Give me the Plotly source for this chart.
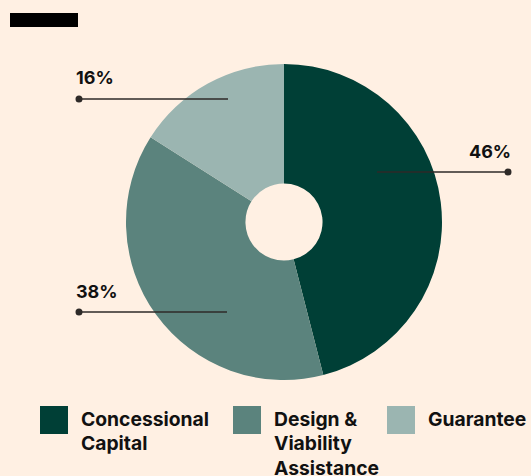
import plotly.graph_objects as go

# Funding mix shares (percent)
categories = ["Concessional Capital", "Design & Viability Assistance", "Guarantee"]
legend_lines = [["Concessional", "Capital"], ["Design &", "Viability", "Assistance"], ["Guarantee"]]
shares = [46, 38, 16]
colors = ["#003F36", "#5B837D", "#9BB5B1"]

W, H = 531, 476
BG = "#FFF0E3"
INK = "#111111"
FONT = "Inter"


def px(x):
    return x / W


def py(y):
    return 1 - y / H


fig = go.Figure()

# Donut centred at (284, 222) px with a 158 px radius
cx, cy, r = 284, 222, 158
fig.add_trace(go.Pie(
    labels=categories,
    values=shares,
    marker=dict(colors=colors, line=dict(width=0)),
    hole=0.244,
    sort=False,
    direction="clockwise",
    rotation=0,
    textinfo="none",
    hoverinfo="label+percent",
    domain=dict(x=[px(cx - r), px(cx + r)], y=[py(cy + r), py(cy - r)]),
))

shapes = []
annotations = []

# Small black header bar
shapes.append(dict(type="rect", xref="paper", yref="paper",
                   x0=px(10), x1=px(78), y0=py(27), y1=py(13),
                   fillcolor="#000000", line=dict(width=0)))

# Percentage callouts: (label x, anchor, label y, line y, line x0, line x1, dot x)
callouts = [
    (513, "right", 151.5, 172, 377, 508, 508),
    (74, "left", 291, 312, 79, 227, 79),
    (74, "left", 78, 99, 79, 228, 79),
]
for v, (lx, anc, ly, yy, x0, x1, dx) in zip(shares, callouts):
    shapes.append(dict(type="line", xref="paper", yref="paper",
                       x0=px(x0), x1=px(x1), y0=py(yy), y1=py(yy),
                       line=dict(color="#2E2A28", width=1.5)))
    shapes.append(dict(type="circle", xref="paper", yref="paper",
                       x0=px(dx - 3.5), x1=px(dx + 3.5), y0=py(yy + 3.5), y1=py(yy - 3.5),
                       fillcolor="#2E2A28", line=dict(width=0)))
    annotations.append(dict(text=f"{v}%", xref="paper", yref="paper",
                            x=px(lx), y=py(ly), xanchor=anc, yanchor="middle",
                            showarrow=False,
                            font=dict(family=FONT, size=18, color=INK, weight=700)))

# Legend: square swatches with wrapped labels
sw_x = [40, 233, 387]
for lines, c, sx in zip(legend_lines, colors, sw_x):
    shapes.append(dict(type="rect", xref="paper", yref="paper",
                       x0=px(sx), x1=px(sx + 28), y0=py(434), y1=py(406),
                       fillcolor=c, line=dict(width=0)))
    for i, t in enumerate(lines):
        annotations.append(dict(text=t, xref="paper", yref="paper",
                                x=px(sx + 39), y=py(418.5 + 24.5 * i),
                                xanchor="left", yanchor="middle", showarrow=False,
                                font=dict(family=FONT, size=19.3, color=INK, weight=700)))

fig.update_layout(
    width=W, height=H,
    margin=dict(l=0, r=0, t=0, b=0),
    paper_bgcolor=BG, plot_bgcolor=BG,
    showlegend=False,
    shapes=shapes,
    annotations=annotations,
)

fig.write_html("out.html")
